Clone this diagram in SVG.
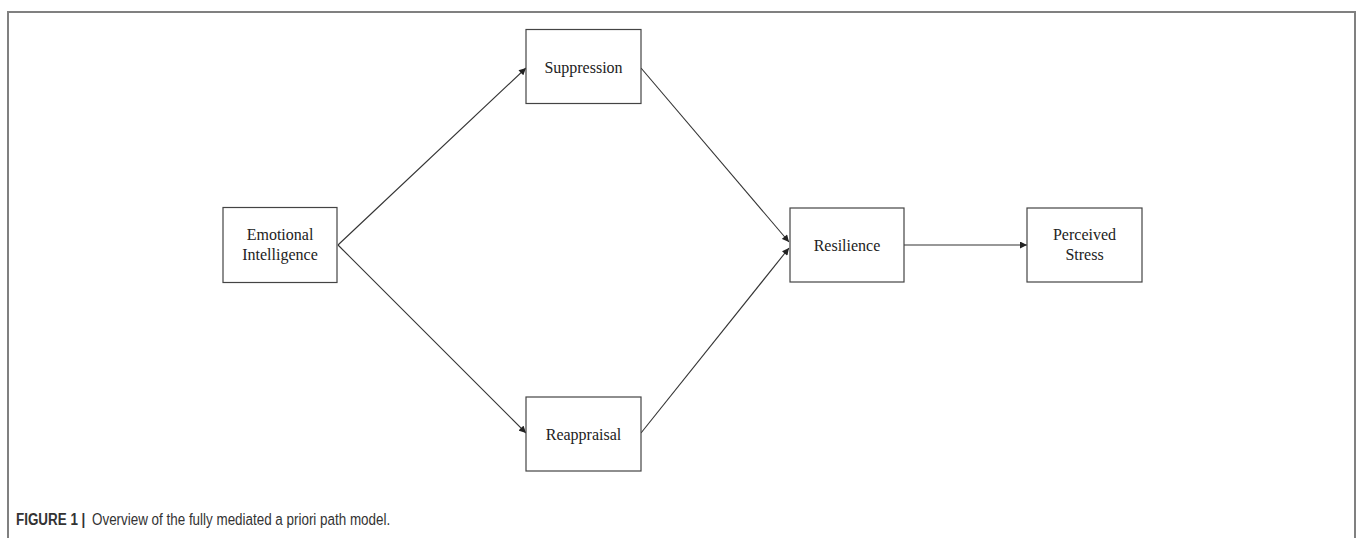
<svg xmlns="http://www.w3.org/2000/svg" width="1357" height="538" viewBox="0 0 1357 538">
<style>
.box{fill:#fff;stroke:#444;stroke-width:1.2}
.lbl{font-family:"Liberation Serif","Times New Roman",serif;font-size:16px;fill:#222;text-anchor:middle}
.edge{stroke:#333;stroke-width:1.1;fill:none;marker-end:url(#ah)}
.cap{font-family:"Liberation Sans",Arial,sans-serif;font-size:17px;fill:#333}
</style>
<defs>
<marker id="ah" viewBox="0 0 10 10" refX="10" refY="5" markerWidth="8" markerHeight="7" markerUnits="userSpaceOnUse" orient="auto">
<path d="M0,0 L10,5 L0,10 z" fill="#222"/>
</marker>
</defs>
<rect x="0" y="0" width="1357" height="538" fill="#fff"/>
<path d="M8,538 L8,12 L1355,12 L1355,538" fill="none" stroke="#808080" stroke-width="2"/>
<g id="connectors">
<line class="edge" x1="338" y1="245" x2="526" y2="68"/>
<line class="edge" x1="338" y1="245" x2="526" y2="433"/>
<line class="edge" x1="641" y1="68" x2="789" y2="242"/>
<line class="edge" x1="641" y1="433" x2="789" y2="248"/>
<line class="edge" x1="904" y1="245" x2="1027" y2="245"/>
</g>
<g id="node-ei">
<rect class="box" x="223" y="207.5" width="114" height="75"/>
<text class="lbl" x="280" y="240">Emotional</text>
<text class="lbl" x="280" y="260">Intelligence</text>
</g>
<g id="node-suppression">
<rect class="box" x="526" y="29.5" width="115" height="74"/>
<text class="lbl" x="583.5" y="73">Suppression</text>
</g>
<g id="node-reappraisal">
<rect class="box" x="526" y="397" width="115" height="74"/>
<text class="lbl" x="583.5" y="440">Reappraisal</text>
</g>
<g id="node-resilience">
<rect class="box" x="790" y="208" width="114" height="74"/>
<text class="lbl" x="847" y="251">Resilience</text>
</g>
<g id="node-stress">
<rect class="box" x="1027" y="208" width="115" height="74"/>
<text class="lbl" x="1084.5" y="240">Perceived</text>
<text class="lbl" x="1084.5" y="260">Stress</text>
</g>
<g id="caption" transform="translate(16 525) scale(0.79 1)">
<text class="cap" x="0" y="0" font-weight="bold">FIGURE 1 |</text>
<text class="cap" x="96.2" y="0">Overview of the fully mediated a priori path model.</text>
</g>
</svg>
